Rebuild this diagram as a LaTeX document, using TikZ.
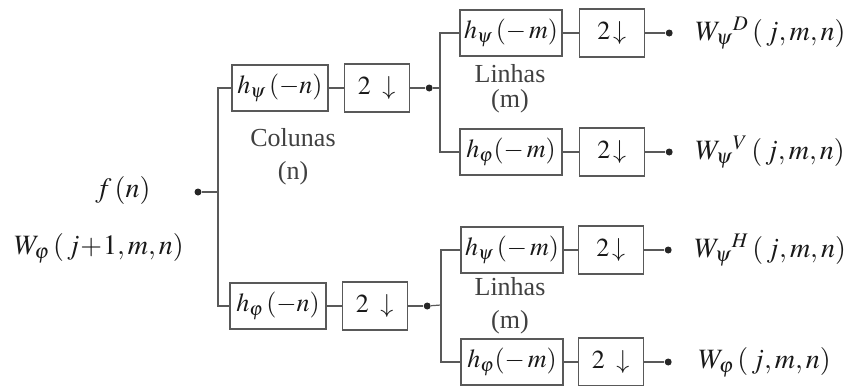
\documentclass[tikz,border=0pt]{standalone}
\usepackage{mathptmx}
\usepackage{fontspec}
\setmainfont{Liberation Serif}
\usetikzlibrary{positioning}

\begin{document}
\begin{tikzpicture}[
    x=0.5pt, y=-0.5pt,
    font=\fontsize{13}{16}\selectfont,
    wire/.style={draw=black!65, line width=0.6pt},
    filt/.style={draw=black!65, line width=0.6pt, minimum width=48pt, minimum height=23pt, inner sep=1pt, text=black!90},
    filtb/.style={filt, minimum width=51pt},
    down/.style={draw=black!65, line width=0.6pt, minimum width=32.5pt, minimum height=24pt, inner sep=1pt, text=black!90},
    dot/.style={circle, fill=black!85, draw=none, inner sep=0pt, minimum size=3.5pt},
    lab/.style={align=center, text=black!75, font=\fontsize{13}{16.5}\selectfont},
    outp/.style={anchor=west, inner sep=0pt, text=black!90, font=\fontsize{14}{16}\selectfont}
]
\useasboundingbox (0,0) rectangle (859,386);

% input
\node[dot] (in) at (198,192) {};
\node[text=black!90, font=\fontsize{14}{16}\selectfont] (fn) at (123,190) {$f\,(n)$};
\node[text=black!90, font=\fontsize{14}{16}\selectfont] (wj) at (99,248) {$W_{\varphi}\,(\,j\!+\!1,m,n)$};
\coordinate (s1) at (218,192);

% columns stage
\node[filt] (hpn) at (280,88) {$h_{\psi}\,(-n)$};
\node[down, right=7.5pt of hpn] (dn1) {$2\;\downarrow$};
\node[dot, right=7.75pt of dn1] (j1) {};
\node[filt] (hfn) at (278,306) {$h_{\varphi}\,(-n)$};
\node[down, right=7.5pt of hfn] (dn2) {$2\;\downarrow$};
\node[dot, right=7.75pt of dn2] (j2) {};
\node[lab] (col) at (293,157) {Colunas\\(n)};

% rows stage, upper
\coordinate (b1) at (440,88);
\node[filtb] (hpm1) at (511,33) {$h_{\psi}\,(-\,m)$};
\node[down, right=8pt of hpm1] (dm1) {$2\!\downarrow$};
\node[dot, right=10.25pt of dm1] (o1) {};
\node[filtb] (hfm1) at (511,152) {$h_{\varphi}(-\,m)$};
\node[down, right=8pt of hfm1] (dm2) {$2\!\downarrow$};
\node[dot, right=10.25pt of dm2] (o2) {};
\node[lab, font=\fontsize{13}{12.5}\selectfont] (lin1) at (510,89) {Linhas\\(m)};

% rows stage, lower
\coordinate (b2) at (441,305);
\node[filtb] (hpm2) at (512,250) {$h_{\psi}\,(-\,m)$};
\node[down, right=7pt of hpm2] (dm3) {$2\!\downarrow$};
\node[dot, right=10.25pt of dm3] (o3) {};
\node[filtb] (hfm2) at (512,362) {$h_{\varphi}(-\,m)$};
\node[down, right=7pt of hfm2] (dm4) {$2\;\downarrow$};
\node[dot, right=10.25pt of dm4] (o4) {};
\node[lab] (lin2) at (510,306) {Linhas\\(m)};

% outputs
\node[outp, right=11pt of o1] (wd) {$W_{\psi}{}^{D}\,(\,j,m,n)$};
\node[outp, right=11pt of o2] (wv) {$W_{\psi}{}^{V}\,(\,j,m,n)$};
\node[outp, right=11pt of o3] (wh) {$W_{\psi}{}^{H}\,(\,j,m,n)$};
\node[outp, right=13pt of o4] (wa) {$W_{\varphi}\,(\,j,m,n)$};

% connectors
\draw[wire] (in) -- (s1);
\draw[wire] (hpn.west) -| (s1) |- (hfn.west);
\draw[wire] (hpn) -- (dn1);
\draw[wire] (dn1) -- (j1);
\draw[wire] (hfn) -- (dn2);
\draw[wire] (dn2) -- (j2);
\draw[wire] (j1) -- (b1);
\draw[wire] (hpm1.west) -| (b1) |- (hfm1.west);
\draw[wire] (j2) -- (b2);
\draw[wire] (hpm2.west) -| (b2) |- (hfm2.west);
\draw[wire] (hpm1) -- (dm1);
\draw[wire] (dm1) -- (o1);
\draw[wire] (hfm1) -- (dm2);
\draw[wire] (dm2) -- (o2);
\draw[wire] (hpm2) -- (dm3);
\draw[wire] (dm3) -- (o3);
\draw[wire] (hfm2) -- (dm4);
\draw[wire] (dm4) -- (o4);

\end{tikzpicture}
\end{document}
